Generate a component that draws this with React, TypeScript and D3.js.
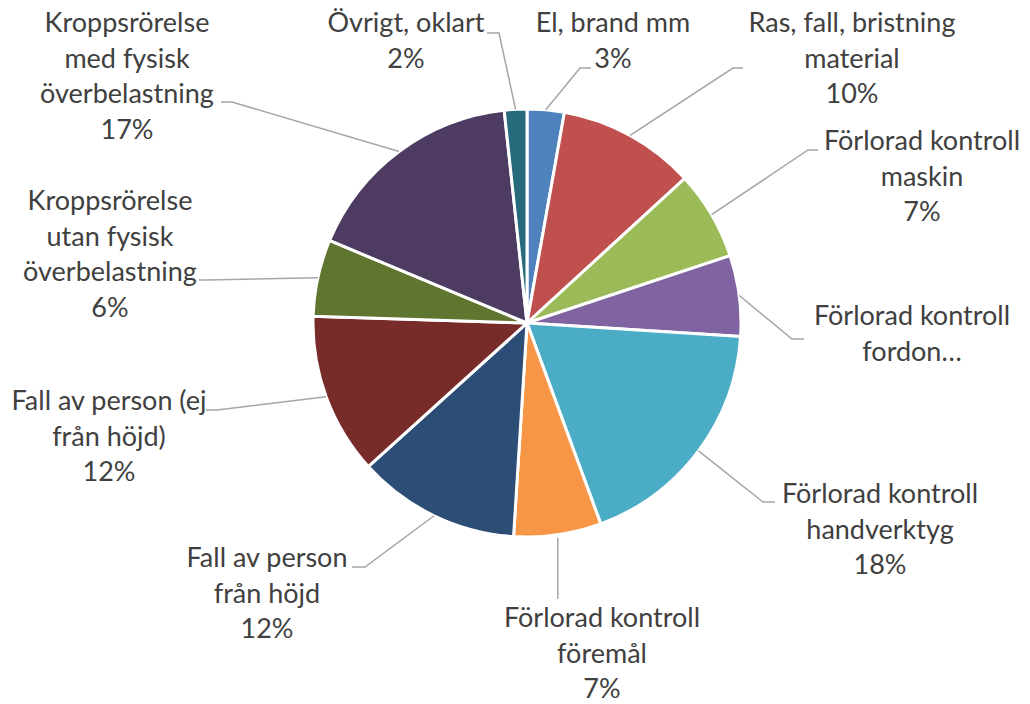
import React, { useMemo } from 'react';
import * as d3 from 'd3';

// slice data, clockwise from 12 o'clock
const categories = [
    'El, brand mm',
    'Ras, fall, bristning material',
    'Förlorad kontroll maskin',
    'Förlorad kontroll fordon',
    'Förlorad kontroll handverktyg',
    'Förlorad kontroll föremål',
    'Fall av person från höjd',
    'Fall av person (ej från höjd)',
    'Kroppsrörelse utan fysisk överbelastning',
    'Kroppsrörelse med fysisk överbelastning',
    'Övrigt, oklart',
];
const values = [2.8, 10.4, 6.7, 6.1, 18.4, 6.6, 12.3, 12.2, 5.8, 17.0, 1.7];
const colors = [
    '#4F81BD', '#C0504D', '#9BBB59', '#8064A2', '#4BACC6', '#F79646',
    '#2C4D75', '#772C2A', '#5F7530', '#4D3B62', '#276A7C',
];

// label text as wrapped in the chart (percentage is added from the data)
const labelLines = [
    ['El, brand mm'],
    ['Ras, fall, bristning', 'material'],
    ['Förlorad kontroll', 'maskin'],
    ['Förlorad kontroll', 'fordon…'],
    ['Förlorad kontroll', 'handverktyg'],
    ['Förlorad kontroll', 'föremål'],
    ['Fall av person', 'från höjd'],
    ['Fall av person (ej', 'från höjd)'],
    ['Kroppsrörelse', 'utan fysisk', 'överbelastning'],
    ['Kroppsrörelse', 'med fysisk', 'överbelastning'],
    ['Övrigt, oklart'],
];
const showPercent = [true, true, true, false, true, true, true, true, true, true, true];

// label placement: text centre x, first baseline y
const labelAnchor = [
    [613, 32], [852, 32], [922, 150], [912, 325], [880, 503], [602, 627],
    [267, 567], [109, 410], [110, 210], [127, 32], [406, 32],
];
// leader line: elbow x, elbow y, end of short horizontal x
const leaderElbow = [
    [580, 68, 591], [733, 68, 743], [808, 150, 818], [792, 339, 804],
    [763, 502, 775], [null, 599, null], [365, 567, 352], [217, 410, 206],
    [207, 280, 199], [232, 102, 221], [499, 33, 487],
];

export default function App() {
    const width = 1030;
    const height = 704;
    const cx = 527;
    const cy = 323;
    const radius = 214;
    const lineHeight = 35.5;

    const { slices, arcGen, total } = useMemo(() => {
        const pie = d3.pie<number>().sort(null).value(d => d);
        const arcGen = d3.arc<d3.PieArcDatum<number>>().innerRadius(0).outerRadius(radius);
        return { slices: pie(values), arcGen, total: d3.sum(values) };
    }, []);

    return (
        <svg
            width={width}
            height={height}
            style={{ position: 'absolute', left: 0, top: 0, background: '#fff' }}
            fontFamily="Lato, 'Open Sans', sans-serif"
        >
            <g transform={`translate(${cx},${cy})`}>
                {slices.map((s, i) => (
                    <path
                        key={categories[i]}
                        d={arcGen(s) || ''}
                        fill={colors[i]}
                        stroke="#fff"
                        strokeWidth={3}
                        strokeLinejoin="round"
                    />
                ))}
            </g>

            {/* Leader lines */}
            {slices.map((s, i) => {
                const mid = (s.startAngle + s.endAngle) / 2;
                const sx = cx + Math.sin(mid) * radius;
                const sy = cy - Math.cos(mid) * radius;
                const [ex, ey, hx] = leaderElbow[i];
                const pts = ex === null
                    ? [[sx, sy + 3], [sx, ey]]
                    : [[sx, sy], [ex, ey], [hx, ey]];
                return (
                    <polyline
                        key={'l' + i}
                        points={pts.map(p => p.join(',')).join(' ')}
                        fill="none"
                        stroke="#A6A6A6"
                        strokeWidth={1.5}
                    />
                );
            })}

            {/* Labels */}
            {slices.map((s, i) => {
                const lines = showPercent[i]
                    ? [...labelLines[i], `${Math.round((values[i] / total) * 100)}%`]
                    : labelLines[i];
                const [lx, ly] = labelAnchor[i];
                return (
                    <text key={'t' + i} x={lx} y={ly} textAnchor="middle" fontSize={27} fill="#404040">
                        {lines.map((t, j) => (
                            <tspan key={j} x={lx} y={ly + j * lineHeight}>{t}</tspan>
                        ))}
                    </text>
                );
            })}
        </svg>
    );
}
